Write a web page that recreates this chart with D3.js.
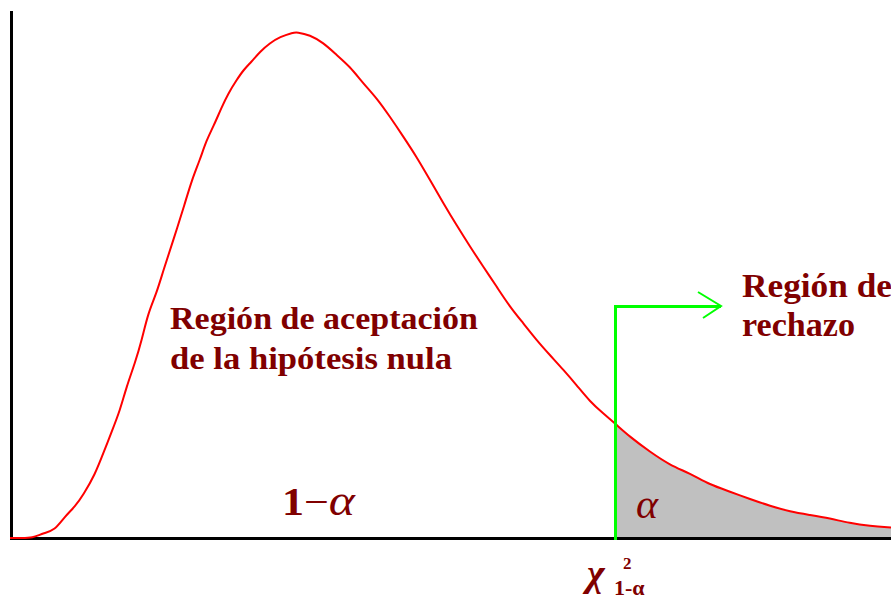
<!DOCTYPE html>
<html>
<head>
<meta charset="utf-8">
<script src="https://cdn.jsdelivr.net/npm/d3@7"></script>
<style>
  html, body { margin: 0; padding: 0; background: #ffffff; overflow: hidden; }
  svg { display: block; }
</style>
</head>
<body>
<svg id="chart" width="891" height="600"></svg>
<script>
// Chi-square statistic values (horizontal axis)
const chiValues = [
  0, 0.3, 0.55, 0.83, 1.12, 1.37, 1.62, 1.83, 2.12, 2.33, 2.54, 2.75, 2.91, 3.12,
  3.29, 3.45, 3.66, 3.83, 4.08, 4.37, 4.54, 4.74, 4.91, 5.08, 5.29, 5.45, 5.66,
  5.83, 6.03, 6.24, 6.49, 6.74, 7.07, 7.16, 7.49, 7.82, 8.16, 8.49, 8.82, 9.16,
  9.49, 9.82, 10.15, 10.49, 10.82, 11.15, 11.49, 11.82, 12.15, 12.48, 12.82,
  13.15, 13.48, 13.82, 14.15, 14.48, 14.81, 15.11, 15.48, 15.98, 16.48, 16.98,
  17.48, 17.98, 18.48, 18.98, 19.48, 19.98, 20.47, 20.97, 21.47, 22
];
// Density of the statistic at each value
const densityValues = [
  0, 0, 0, 0.001, 0.0016, 0.0045, 0.0065, 0.009, 0.0132, 0.0177, 0.0222, 0.0267,
  0.0316, 0.0365, 0.0413, 0.047, 0.0511, 0.0559, 0.0622, 0.0699, 0.0747, 0.0789,
  0.0831, 0.0859, 0.09, 0.0928, 0.0956, 0.0977, 0.0994, 0.1015, 0.1033, 0.1046,
  0.1055, 0.1056, 0.105, 0.1034, 0.1008, 0.0984, 0.0949, 0.0918, 0.0879, 0.0838,
  0.0796, 0.0747, 0.0699, 0.0653, 0.0608, 0.0566, 0.0525, 0.0483, 0.0448, 0.0413,
  0.0382, 0.0351, 0.0319, 0.0285, 0.026, 0.0239, 0.0211, 0.018, 0.0152, 0.0135,
  0.0111, 0.0097, 0.0081, 0.0067, 0.0055, 0.0048, 0.0041, 0.0031, 0.0025, 0.0022
];
// Critical value separating acceptance and rejection regions
const criticalValue = 15.11;
// Text labels
const acceptLabel = ["Región de aceptación", "de la hipótesis nula"];
const rejectLabel = ["Región de", "rechazo"];

const svg = d3.select("#chart");
const W = 891;

const x = d3.scaleLinear().domain([0, 22]).range([10, 891]);
const y = d3.scaleLinear().domain([0, 0.11]).range([538, 11]);

const pts = chiValues.map((c, i) => ({ c, d: densityValues[i] }));
const tail = pts.filter(p => p.c >= criticalValue);

const maroon = "#800000";
const green = "#00ff00";
const smooth = d3.curveBasis;

// Shaded rejection tail
svg.append("path")
  .datum(tail)
  .attr("fill", "#c0c0c0")
  .attr("d", d3.area()
    .x(p => x(p.c))
    .y0(y(0))
    .y1(p => y(p.d))
    .curve(smooth));

// Axes: vertical line on the left and horizontal baseline
svg.append("line")
  .attr("x1", 11.5).attr("x2", 11.5)
  .attr("y1", 11).attr("y2", 540)
  .attr("stroke", "#000").attr("stroke-width", 3)
  .attr("shape-rendering", "crispEdges");
svg.append("line")
  .attr("x1", 10).attr("x2", W)
  .attr("y1", y(0) + 0.5).attr("y2", y(0) + 0.5)
  .attr("stroke", "#000").attr("stroke-width", 3)
  .attr("shape-rendering", "crispEdges");

// Density curve
svg.append("path")
  .datum(pts)
  .attr("fill", "none")
  .attr("stroke", "#ff0000")
  .attr("stroke-width", 2)
  .attr("d", d3.line()
    .x(p => x(p.c))
    .y(p => y(p.d))
    .curve(smooth));

// Green marker at the critical value with arrow pointing to the rejection region
const cx = Math.round(x(criticalValue));
const arrowY = 306;
const arrowEnd = 721;
svg.append("path")
  .attr("d", `M${cx + 0.5},${y(0) + 2}V${arrowY}H${arrowEnd}`)
  .attr("fill", "none")
  .attr("stroke", green)
  .attr("stroke-width", 3)
  .attr("shape-rendering", "crispEdges");
svg.append("path")
  .attr("d", `M698,292L${arrowEnd},${arrowY}L703,318`)
  .attr("fill", "none")
  .attr("stroke", green)
  .attr("stroke-width", 2);

// Labels
const font = "'Liberation Serif', 'Times New Roman', serif";

function fitText(sel, width) {
  sel.attr("textLength", width).attr("lengthAdjust", "spacingAndGlyphs");
}

const acc = svg.append("g")
  .attr("fill", maroon)
  .attr("font-family", font)
  .attr("font-weight", "bold")
  .attr("font-size", 32);
fitText(acc.append("text").attr("x", 170).attr("y", 329).text(acceptLabel[0]), 308);
fitText(acc.append("text").attr("x", 170).attr("y", 369).text(acceptLabel[1]), 282);

const rej = svg.append("g")
  .attr("fill", maroon)
  .attr("font-family", font)
  .attr("font-weight", "bold")
  .attr("font-size", 34);
fitText(rej.append("text").attr("x", 742).attr("y", 297).text(rejectLabel[0]), 150);
fitText(rej.append("text").attr("x", 742).attr("y", 336).text(rejectLabel[1]), 113);

// 1 − α under the acceptance region
const oneMinus = svg.append("text")
  .attr("x", 282).attr("y", 515)
  .attr("fill", maroon)
  .attr("font-family", font)
  .attr("font-size", 39);
oneMinus.append("tspan").attr("font-weight", "bold").text("1");
oneMinus.append("tspan").text("\u2212");
oneMinus.append("tspan").attr("font-style", "italic").attr("font-size", 44).text("\u03b1");
fitText(oneMinus, 73);

// α inside the shaded tail
svg.append("text")
  .attr("x", 636).attr("y", 518)
  .attr("fill", maroon)
  .attr("font-family", font)
  .attr("font-style", "italic")
  .attr("font-size", 42)
  .text("\u03b1");

// χ²(1−α) below the critical value
const chi = svg.append("g").attr("fill", maroon).attr("font-family", font);
chi.append("text")
  .attr("x", 587).attr("y", 586)
  .attr("font-size", 38)
  .attr("font-style", "italic")
  .attr("font-weight", "bold")
  .text("\u03c7");
chi.append("text")
  .attr("x", 623).attr("y", 569)
  .attr("font-size", 17)
  .attr("font-weight", "bold")
  .text("2");
chi.append("text")
  .attr("x", 614).attr("y", 595)
  .attr("font-size", 22)
  .attr("font-weight", "bold")
  .text("1-\u03b1");
</script>
</body>
</html>
